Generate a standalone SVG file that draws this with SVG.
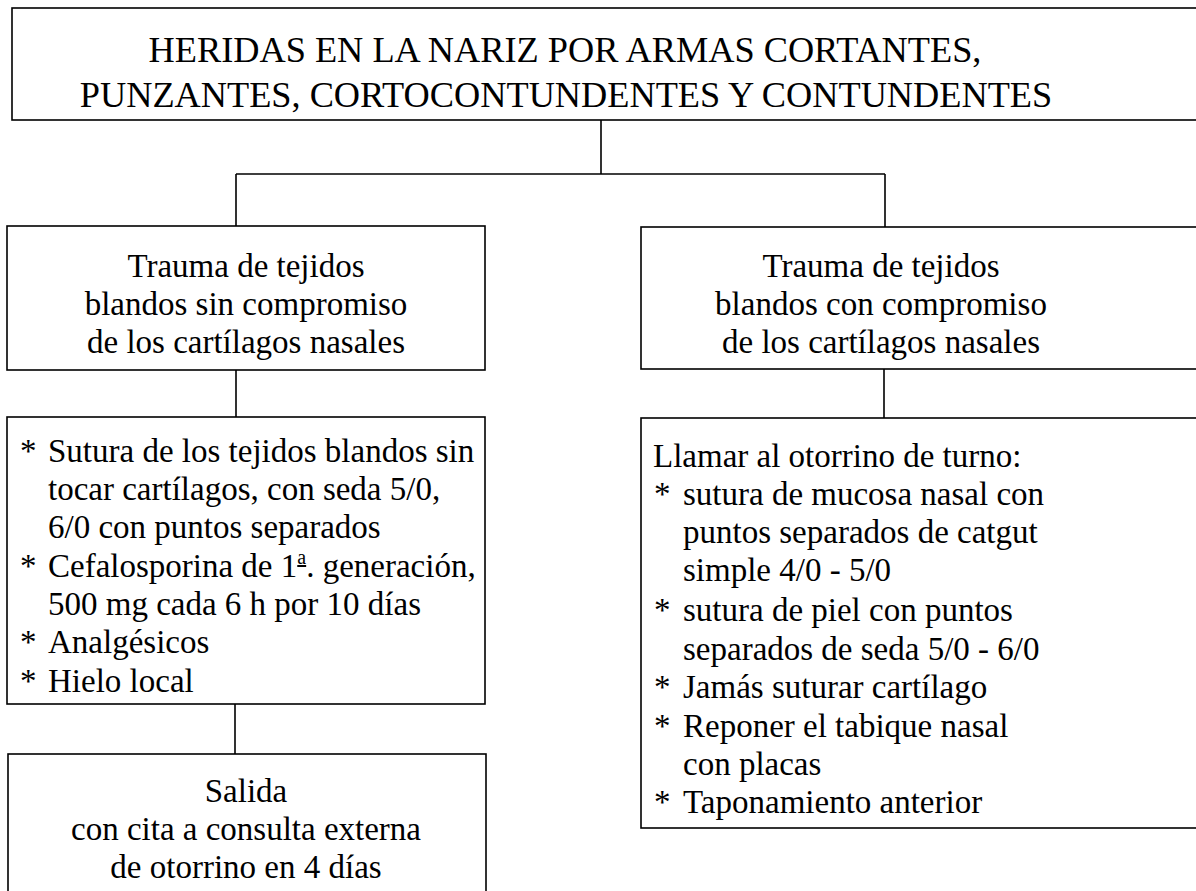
<svg xmlns="http://www.w3.org/2000/svg" width="1196" height="891" viewBox="0 0 1196 891" font-family="'Liberation Serif', 'Times New Roman', Times, serif">
<style>
.box{fill:#fff;stroke:#000;stroke-width:1.6}
.ln{fill:none;stroke:#000;stroke-width:1.6}
text{font-family:'Liberation Serif', 'Times New Roman', Times, serif;fill:#000}
.t{font-size:36.3px}
.b{font-size:33px}
.c{text-anchor:middle}
</style>
<rect width="1196" height="891" fill="#fff"/>
<g id="connectors">
<path class="ln" d="M601,120 V174 M236,174 H885 M236,174 V226 M885,174 V227 M236,370 V417 M235,704 V754 M884,369 V418"/>
</g>
<g id="title">
<rect class="box" x="12" y="8" width="1200" height="112"/>
<text class="t c" x="565" y="62">HERIDAS EN LA NARIZ POR ARMAS CORTANTES,</text>
<text class="t c" x="566" y="107">PUNZANTES, CORTOCONTUNDENTES Y CONTUNDENTES</text>
</g>
<g id="sin">
<rect class="box" x="7" y="226" width="478" height="144"/>
<text class="b c" x="246" y="277">Trauma de tejidos</text>
<text class="b c" x="246" y="315">blandos sin compromiso</text>
<text class="b c" x="246" y="353">de los cartílagos nasales</text>
</g>
<g id="con">
<rect class="box" x="641" y="227" width="600" height="142"/>
<text class="b c" x="881" y="277">Trauma de tejidos</text>
<text class="b c" x="881" y="315">blandos con compromiso</text>
<text class="b c" x="881" y="353">de los cartílagos nasales</text>
</g>
<g id="tratamiento-sin">
<rect class="box" x="7" y="417" width="478" height="287"/>
<text class="b" x="20" y="462">*</text><text class="b" x="48" y="462">Sutura de los tejidos blandos sin</text>
<text class="b" x="48" y="500">tocar cartílagos, con seda 5/0,</text>
<text class="b" x="48" y="538">6/0 con puntos separados</text>
<text class="b" x="20" y="577">*</text><text class="b" x="48" y="577">Cefalosporina de 1<tspan font-size="20" dy="-13" text-decoration="underline">a</tspan><tspan dy="13">. generación,</tspan></text>
<text class="b" x="48" y="615">500 mg cada 6 h por 10 días</text>
<text class="b" x="20" y="653">*</text><text class="b" x="48" y="653">Analgésicos</text>
<text class="b" x="20" y="692">*</text><text class="b" x="48" y="692">Hielo local</text>
</g>
<g id="salida">
<rect class="box" x="8" y="754" width="478" height="150"/>
<text class="b c" x="246" y="802">Salida</text>
<text class="b c" x="246" y="840">con cita a consulta externa</text>
<text class="b c" x="246" y="878">de otorrino en 4 días</text>
</g>
<g id="tratamiento-con">
<rect class="box" x="641" y="418" width="600" height="410"/>
<text class="b" x="653" y="467">Llamar al otorrino de turno:</text>
<text class="b" x="654" y="505">*</text><text class="b" x="683" y="505">sutura de mucosa nasal con</text>
<text class="b" x="683" y="543">puntos separados de catgut</text>
<text class="b" x="683" y="581">simple 4/0 - 5/0</text>
<text class="b" x="654" y="621">*</text><text class="b" x="683" y="621">sutura de piel con puntos</text>
<text class="b" x="683" y="660">separados de seda 5/0 - 6/0</text>
<text class="b" x="654" y="698">*</text><text class="b" x="683" y="698">Jamás suturar cartílago</text>
<text class="b" x="654" y="737">*</text><text class="b" x="683" y="737">Reponer el tabique nasal</text>
<text class="b" x="683" y="775">con placas</text>
<text class="b" x="654" y="813">*</text><text class="b" x="683" y="813">Taponamiento anterior</text>
</g>
</svg>
